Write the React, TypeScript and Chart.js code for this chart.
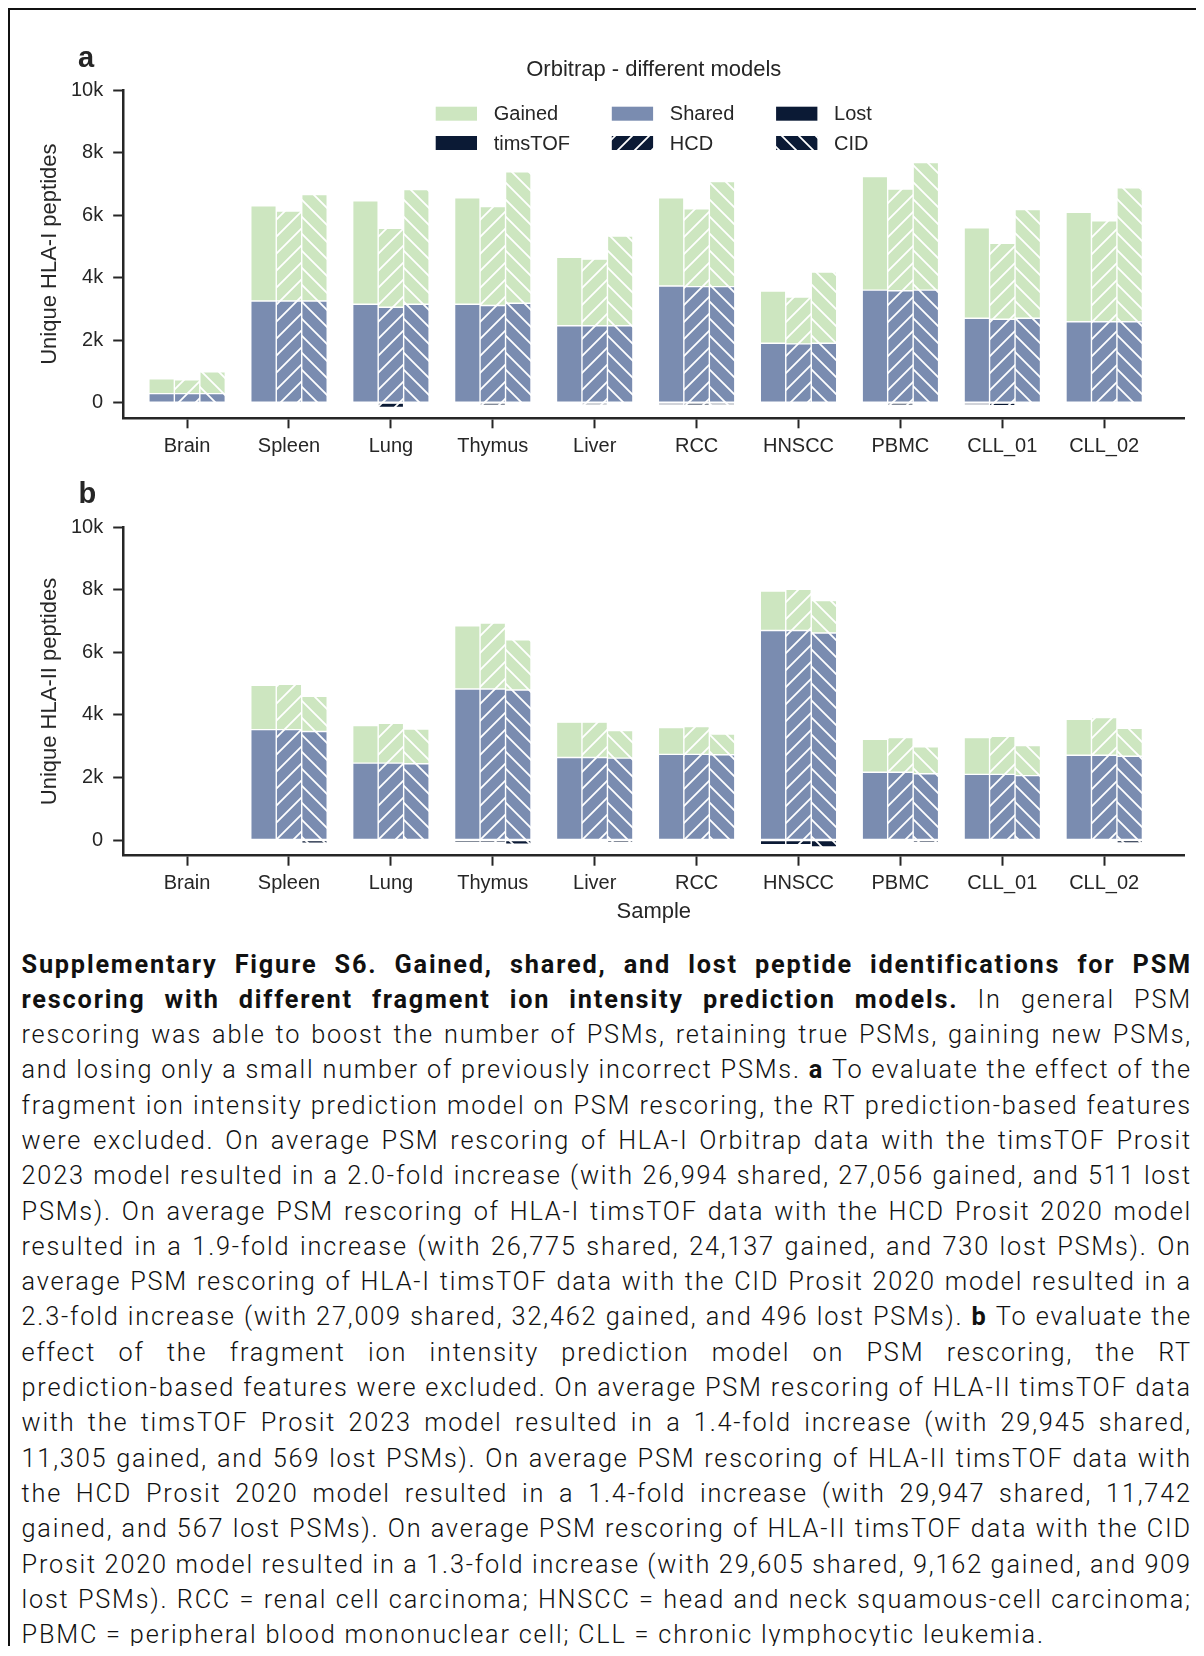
import React, { useEffect, useRef } from 'react';
import { Chart, registerables } from 'chart.js';

Chart.register(...registerables);

// ---------- data ----------
const SAMPLES = ['Brain', 'Spleen', 'Lung', 'Thymus', 'Liver', 'RCC', 'HNSCC', 'PBMC', 'CLL_01', 'CLL_02'];
const MODELS = ['timsTOF', 'HCD', 'CID'];
const CLASSES = ['Gained', 'Shared', 'Lost'];
const Y_TICKS = [0, 2000, 4000, 6000, 8000, 10000];
const LEGEND_TITLE = 'Orbitrap - different models';

// a: HLA-I peptides
const A_SHARED_TIMSTOF = [290, 3250, 3150, 3150, 2460, 3730, 1900, 3600, 2700, 2590];
const A_SHARED_HCD = [290, 3250, 3050, 3110, 2460, 3710, 1880, 3580, 2670, 2590];
const A_SHARED_CID = [290, 3250, 3150, 3180, 2460, 3710, 1900, 3600, 2700, 2590];
const A_GAINED_TIMSTOF = [470, 3050, 3310, 3400, 2190, 2820, 1670, 3630, 2890, 3500];
const A_GAINED_HCD = [440, 2880, 2530, 3160, 2130, 2490, 1500, 3250, 2430, 3230];
const A_GAINED_CID = [700, 3410, 3670, 4200, 2870, 3360, 2280, 4080, 3480, 4280];
const A_LOST_TIMSTOF = [-10, -60, -10, -60, -50, -70, -40, -60, -70, -60];
const A_LOST_HCD = [-10, -60, -150, -80, -70, -80, -40, -80, -100, -60];
const A_LOST_CID = [-10, -50, -40, -60, -50, -70, -30, -60, -60, -60];

// b: HLA-II peptides
const B_SHARED_TIMSTOF = [null, 3530, 2460, 4830, 2640, 2740, 6700, 2170, 2100, 2710];
const B_SHARED_HCD = [null, 3530, 2460, 4830, 2640, 2740, 6700, 2170, 2100, 2710];
const B_SHARED_CID = [null, 3470, 2440, 4800, 2620, 2730, 6620, 2120, 2060, 2680];
const B_GAINED_TIMSTOF = [null, 1420, 1200, 2020, 1130, 860, 1260, 1050, 1180, 1150];
const B_GAINED_HCD = [null, 1450, 1270, 2110, 1130, 890, 1320, 1110, 1220, 1210];
const B_GAINED_CID = [null, 1130, 1110, 1600, 880, 660, 1040, 860, 960, 890];
const B_LOST_TIMSTOF = [null, -40, -30, -80, -50, -50, -150, -50, -40, -60];
const B_LOST_HCD = [null, -40, -30, -80, -50, -50, -150, -50, -40, -60];
const B_LOST_CID = [null, -100, -40, -130, -80, -60, -220, -80, -60, -90];

const CAPTION_LINES = [
  '*Supplementary Figure S6. Gained, shared, and lost peptide identifications for PSM*',
  '*rescoring with different fragment ion intensity prediction models.* In general PSM',
  'rescoring was able to boost the number of PSMs, retaining true PSMs, gaining new PSMs,',
  'and losing only a small number of previously incorrect PSMs. *a* To evaluate the effect of the',
  'fragment ion intensity prediction model on PSM rescoring, the RT prediction-based features',
  'were excluded. On average PSM rescoring of HLA-I Orbitrap data with the timsTOF Prosit',
  '2023 model resulted in a 2.0-fold increase (with 26,994 shared, 27,056 gained, and 511 lost',
  'PSMs). On average PSM rescoring of HLA-I timsTOF data with the HCD Prosit 2020 model',
  'resulted in a 1.9-fold increase (with 26,775 shared, 24,137 gained, and 730 lost PSMs). On',
  'average PSM rescoring of HLA-I timsTOF data with the CID Prosit 2020 model resulted in a',
  '2.3-fold increase (with 27,009 shared, 32,462 gained, and 496 lost PSMs). *b* To evaluate the',
  'effect of the fragment ion intensity prediction model on PSM rescoring, the RT',
  'prediction-based features were excluded. On average PSM rescoring of HLA-II timsTOF data',
  'with the timsTOF Prosit 2023 model resulted in a 1.4-fold increase (with 29,945 shared,',
  '11,305 gained, and 569 lost PSMs). On average PSM rescoring of HLA-II timsTOF data with',
  'the HCD Prosit 2020 model resulted in a 1.4-fold increase (with 29,947 shared, 11,742',
  'gained, and 567 lost PSMs). On average PSM rescoring of HLA-II timsTOF data with the CID',
  'Prosit 2020 model resulted in a 1.3-fold increase (with 29,605 shared, 9,162 gained, and 909',
  'lost PSMs). RCC = renal cell carcinoma; HNSCC = head and neck squamous-cell carcinoma;',
  'PBMC = peripheral blood mononuclear cell; CLL = chronic lymphocytic leukemia.',
];

// ---------- style ----------
const FONT = "'Liberation Sans', Arial, Helvetica, sans-serif";
const TEXT = '#262626';
const GAINED_COLOR = '#cde6c0';
const SHARED_COLOR = '#7a8cb0';
const LOST_COLOR = '#0b1a35';
const HATCH_DIRS = ['none', 'fwd', 'back'];

Chart.defaults.font.family = FONT;
Chart.defaults.color = TEXT;

function hatchFill(bg: string, dir: string): any {
  if (dir === 'none') return bg;
  const s = 17;
  const c = document.createElement('canvas');
  c.width = s;
  c.height = s;
  const g = c.getContext('2d')!;
  g.fillStyle = bg;
  g.fillRect(0, 0, s, s);
  g.strokeStyle = '#ffffff';
  g.lineWidth = 1.8;
  g.beginPath();
  if (dir === 'fwd') {
    g.moveTo(0, s); g.lineTo(s, 0);
    g.moveTo(-3, 3); g.lineTo(3, -3);
    g.moveTo(s - 3, s + 3); g.lineTo(s + 3, s - 3);
  } else {
    g.moveTo(0, 0); g.lineTo(s, s);
    g.moveTo(s - 3, -3); g.lineTo(s + 3, 3);
    g.moveTo(-3, s - 3); g.lineTo(3, s + 3);
  }
  g.stroke();
  return g.createPattern(c, 'repeat');
}

function makeDecor(p: { letter: string; lx: number; ly: number; legend: boolean }) {
  return {
    id: 'decor' + p.letter,
    afterDraw(chart: any) {
      const ctx = chart.ctx as CanvasRenderingContext2D;
      const ca = chart.chartArea;
      ctx.save();
      ctx.fillStyle = TEXT;
      ctx.font = `bold 29px ${FONT}`;
      ctx.textAlign = 'left';
      ctx.textBaseline = 'alphabetic';
      ctx.fillText(p.letter, p.lx, p.ly);
      if (p.legend) {
        const cx = (ca.left + ca.right) / 2;
        ctx.font = `22px ${FONT}`;
        ctx.textAlign = 'center';
        ctx.textBaseline = 'middle';
        ctx.fillText(LEGEND_TITLE, cx, ca.top - 20);
        ctx.font = `20px ${FONT}`;
        ctx.textAlign = 'left';
        const rows = [CLASSES, MODELS];
        const fills = [
          [GAINED_COLOR, SHARED_COLOR, LOST_COLOR],
          [LOST_COLOR, hatchFill(LOST_COLOR, 'fwd'), hatchFill(LOST_COLOR, 'back')],
        ];
        const sw = 41.3, sh = 14, textOff = 58, colGap = 41.8;
        const colW = [0, 1, 2].map((c) =>
          textOff + Math.max(ctx.measureText(rows[0][c]).width, ctx.measureText(rows[1][c]).width));
        const total = colW.reduce((a, b) => a + b, 0) + 2 * colGap;
        let x = cx - total / 2;
        const rowY = [ca.top + 23.7, ca.top + 53];
        for (let c = 0; c < 3; c++) {
          for (let r = 0; r < 2; r++) {
            ctx.fillStyle = fills[r][c];
            ctx.fillRect(x, rowY[r] - sh / 2, sw, sh);
            ctx.fillStyle = TEXT;
            ctx.fillText(rows[r][c], x + textOff, rowY[r] + 1);
          }
          x += colW[c] + colGap;
        }
      }
      ctx.restore();
    },
  };
}

type PanelProps = {
  shared: (number | null)[][];
  gained: (number | null)[][];
  lost: (number | null)[][];
  yTitle: string;
  xTitle: string;
  width: number;
  height: number;
  padTop: number;
  xHeight: number;
  letter: string;
  lx: number;
  ly: number;
  legend: boolean;
};

function BarPanel(props: PanelProps) {
  const ref = useRef<HTMLCanvasElement | null>(null);
  useEffect(() => {
    if (!ref.current) return;
    const pts = (arr: (number | null)[]) => arr.map((v, i) => ({ x: i, y: v }));
    const datasets: any[] = [];
    MODELS.forEach((m, k) => {
      const common = {
        type: 'bar',
        stack: m,
        categoryPercentage: 0.75,
        barPercentage: 1,
        borderWidth: 0.7,
        borderColor: '#ffffff',
        borderSkipped: false,
        inflateAmount: 0,
      };
      datasets.push({ ...common, label: `Shared ${m}`, data: pts(props.shared[k]), backgroundColor: hatchFill(SHARED_COLOR, HATCH_DIRS[k]) });
      datasets.push({ ...common, label: `Gained ${m}`, data: pts(props.gained[k]), backgroundColor: hatchFill(GAINED_COLOR, HATCH_DIRS[k]) });
      datasets.push({ ...common, label: `Lost ${m}`, data: pts(props.lost[k]), backgroundColor: hatchFill(LOST_COLOR, HATCH_DIRS[k]) });
    });
    const chart = new Chart(ref.current, {
      type: 'bar',
      data: { datasets },
      options: {
        responsive: false,
        animation: false,
        events: [],
        layout: { padding: { top: props.padTop, right: 5.6, left: 0, bottom: 0 } },
        plugins: { legend: { display: false }, tooltip: { enabled: false }, title: { display: false } },
        scales: {
          x: {
            type: 'linear',
            min: -0.627,
            max: 9.787,
            offset: false,
            afterBuildTicks: (s: any) => { s.ticks = SAMPLES.map((_, i) => ({ value: i })); },
            afterFit: (s: any) => { s.height = props.xHeight; },
            ticks: {
              callback: (v: any) => SAMPLES[v] ?? '',
              font: { size: 20, family: FONT },
              color: TEXT,
              padding: 6,
              maxRotation: 0,
              autoSkip: false,
            },
            grid: { display: true, offset: false, drawOnChartArea: false, drawTicks: true, tickLength: 10, tickWidth: 2, tickColor: TEXT },
            border: { display: true, color: TEXT, width: 2.5 },
            title: {
              display: !!props.xTitle,
              text: props.xTitle,
              font: { size: 22, family: FONT },
              color: TEXT,
              padding: { top: 0, bottom: 5 },
            },
          },
          y: {
            type: 'linear',
            stacked: true,
            min: -500,
            max: 10000,
            afterBuildTicks: (s: any) => { s.ticks = Y_TICKS.map((v) => ({ value: v })); },
            afterFit: (s: any) => { s.width = 113.2; },
            ticks: {
              callback: (v: any) => (v === 0 ? '0' : `${v / 1000}k`),
              font: { size: 20, family: FONT },
              color: TEXT,
              padding: 10,
            },
            grid: { display: true, drawOnChartArea: false, drawTicks: true, tickLength: 10, tickWidth: 2, tickColor: TEXT },
            border: { display: true, color: TEXT, width: 2.5 },
            title: {
              display: true,
              text: props.yTitle,
              font: { size: 22, family: FONT },
              color: TEXT,
              padding: { top: 26.5, bottom: 0 },
            },
          },
        },
      } as any,
      plugins: [makeDecor({ letter: props.letter, lx: props.lx, ly: props.ly, legend: props.legend })],
    } as any);
    return () => chart.destroy();
  }, []);
  return <canvas ref={ref} width={props.width} height={props.height} style={{ width: props.width, height: props.height, display: 'block' }} />;
}

function parseWords(line: string) {
  let bold = false;
  const out: { text: string; bold: boolean }[] = [];
  for (let tok of line.split(' ')) {
    let b = bold;
    if (tok.startsWith('*')) { tok = tok.slice(1); b = true; bold = true; }
    let end = false;
    if (tok.endsWith('*')) { tok = tok.slice(0, -1); end = true; }
    out.push({ text: tok, bold: b });
    if (end) bold = false;
  }
  return out;
}

function Caption() {
  return (
    <div
      style={{
        position: 'absolute',
        left: 11.5,
        top: 936.5,
        width: 1170.5,
        fontFamily: "Roboto, 'Noto Sans', sans-serif",
        fontWeight: 300,
        fontSize: 25.3,
        letterSpacing: '1.8px',
        lineHeight: '35.3px',
        color: '#111111',
      }}
    >
      {CAPTION_LINES.map((line, li) => {
        const words = parseWords(line);
        const last = li === CAPTION_LINES.length - 1;
        return (
          <div
            key={li}
            style={{ display: 'flex', justifyContent: last ? 'flex-start' : 'space-between', whiteSpace: 'pre', height: 35.3 }}
          >
            {words.map((w, wi) => (
              <span key={wi} style={{ fontWeight: w.bold ? 700 : 300 }}>
                {w.text}
                {last && wi < words.length - 1 ? ' ' : ''}
              </span>
            ))}
          </div>
        );
      })}
    </div>
  );
}

export default function App() {
  return (
    <div
      style={{
        position: 'relative',
        margin: '-1px 0 -12px -1px',
        borderTop: '3px solid #111',
        borderLeft: '3px solid #111',
        width: 1189,
        height: 1648,
        background: '#fff',
      }}
    >
      <div style={{ position: 'absolute', left: 0, top: 0 }}>
        <BarPanel
          shared={[A_SHARED_TIMSTOF, A_SHARED_HCD, A_SHARED_CID]}
          gained={[A_GAINED_TIMSTOF, A_GAINED_HCD, A_GAINED_CID]}
          lost={[A_LOST_TIMSTOF, A_LOST_HCD, A_LOST_CID]}
          yTitle="Unique HLA-I peptides"
          xTitle=""
          width={1180}
          height={450}
          padTop={80}
          xHeight={41.7}
          letter="a"
          lx={68}
          ly={57}
          legend={true}
        />
      </div>
      <div style={{ position: 'absolute', left: 0, top: 450 }}>
        <BarPanel
          shared={[B_SHARED_TIMSTOF, B_SHARED_HCD, B_SHARED_CID]}
          gained={[B_GAINED_TIMSTOF, B_GAINED_HCD, B_GAINED_CID]}
          lost={[B_LOST_TIMSTOF, B_LOST_HCD, B_LOST_CID]}
          yTitle="Unique HLA-II peptides"
          xTitle="Sample"
          width={1180}
          height={470}
          padTop={67.3}
          xHeight={74.3}
          letter="b"
          lx={68.5}
          ly={43}
          legend={false}
        />
      </div>
      <Caption />
    </div>
  );
}
